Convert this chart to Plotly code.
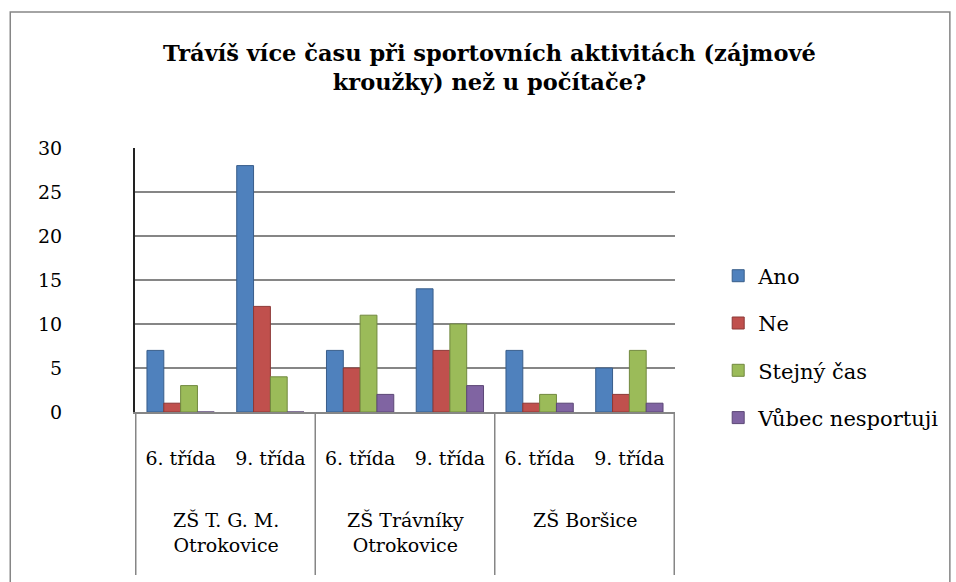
import plotly.graph_objects as go

schools = ["ZŠ T. G. M.<br>Otrokovice", "ZŠ Trávníky<br>Otrokovice", "ZŠ Boršice"]
grades = ["6. třída", "9. třída", "6. třída", "9. třída", "6. třída", "9. třída"]
keys = [f"{s}|{g}" for s in schools for g in ["6. třída", "9. třída"]]

series_names = ["Ano", "Ne", "Stejný čas", "Vůbec nesportuji"]
ano = [7, 28, 7, 14, 7, 5]
ne = [1, 12, 5, 7, 1, 2]
stejny = [3, 4, 11, 10, 2, 7]
vubec = [0, 0, 2, 3, 1, 1]
values = [ano, ne, stejny, vubec]

colors = ["#4F81BD", "#C0504D", "#9BBB59", "#8064A2"]
edges = ["#385D8A", "#8C3836", "#71893F", "#5C4776"]

FONT = "DejaVu Serif"
GRID = "#868686"

fig = go.Figure()
for name, vals, c, e in zip(series_names, values, colors, edges):
    fig.add_trace(go.Bar(
        x=keys, y=vals, name=name, legendgroup=name,
        marker=dict(color=c, line=dict(color=e, width=1)),
    ))

# group (school) labels below the grade labels, and the table dividers
n_per = 2
annotations = []
for i, s in enumerate(schools):
    annotations.append(dict(
        text=s, xref="x", yref="paper",
        x=i * n_per + (n_per - 1) / 2, y=-0.36,
        xanchor="center", yanchor="top", showarrow=False, align="center",
        font=dict(family=FONT, size=19, color="black"),
    ))

shapes = [dict(
    type="rect", xref="paper", yref="paper",
    x0=-0.231, x1=1.509, y0=-0.66, y1=1.515,
    line=dict(color=GRID, width=1.5), fillcolor="rgba(0,0,0,0)",
    layer="below",
)]
for j in range(len(schools) + 1):
    shapes.append(dict(
        type="line", xref="x", yref="paper",
        x0=j * n_per - 0.5, x1=j * n_per - 0.5, y0=0, y1=-0.617,
        line=dict(color=GRID, width=1.5),
    ))

fig.update_layout(
    width=956, height=582,
    paper_bgcolor="white", plot_bgcolor="white",
    margin=dict(l=135, r=281, t=148, b=170),
    barmode="group", bargap=0.25, bargroupgap=0.0,
    title=dict(
        text="<b>Trávíš více času při sportovních aktivitách (zájmové<br>kroužky) než u počítače?</b>",
        x=0.512, xref="container", xanchor="center", y=0.895, yanchor="top",
        font=dict(family=FONT, size=22.5, color="black"),
    ),
    font=dict(family=FONT, size=19, color="black"),
    legend=dict(
        x=1.08, xanchor="left", y=0.246, yanchor="middle",
        font=dict(family=FONT, size=21, color="black"),
        tracegroupgap=17, itemwidth=30,
        bgcolor="rgba(0,0,0,0)",
    ),
    yaxis=dict(
        range=[0, 30], dtick=5,
        showgrid=True, gridcolor=GRID, gridwidth=1.5,
        showline=True, linecolor="#222222", linewidth=2,
        ticks="", ticklabelstandoff=67,
        tickfont=dict(family=FONT, size=19),
        zeroline=False,
    ),
    xaxis=dict(
        type="category",
        tickvals=keys, ticktext=grades,
        showline=True, linecolor=GRID, linewidth=1.5,
        ticks="", ticklabelstandoff=28,
        tickfont=dict(family=FONT, size=19),
        showgrid=False,
    ),
    annotations=annotations,
    shapes=shapes,
)

fig.write_html("out.html", config={"displayModeBar": False},
               post_script="document.body.style.margin='0';")
